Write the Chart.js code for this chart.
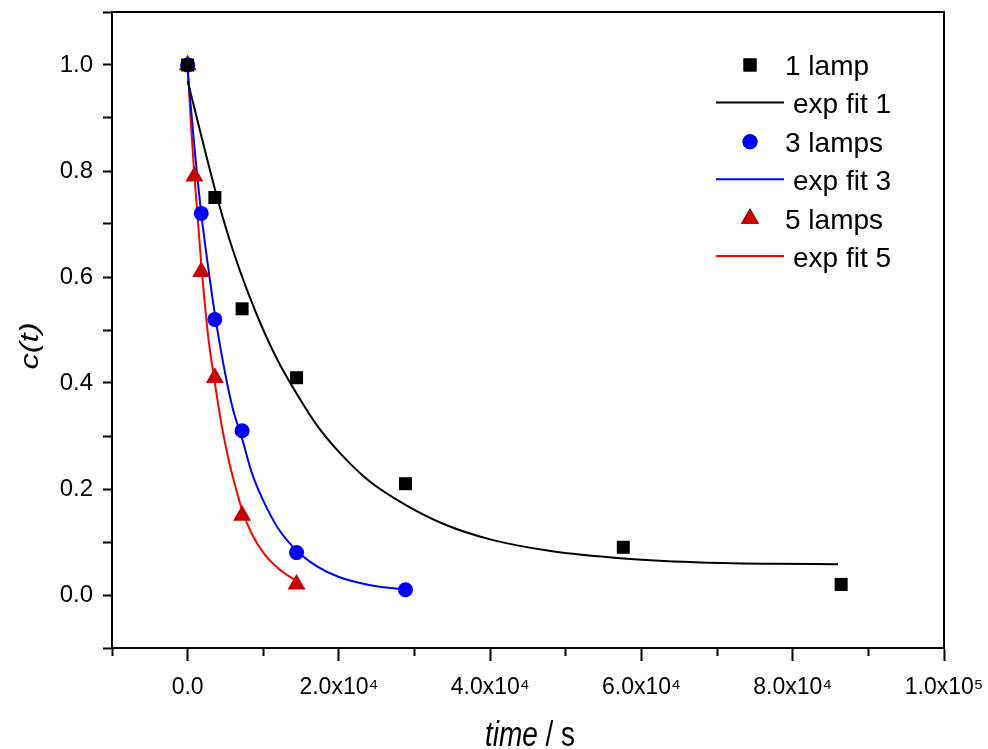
<!DOCTYPE html>
<html>
<head>
<meta charset="utf-8">
<script src="https://cdn.jsdelivr.net/npm/chart.js@4.4.1/dist/chart.umd.min.js"></script>
<style>
  html, body { margin: 0; padding: 0; background: #fff; }
  #wrap { width: 988px; height: 749px; }
</style>
</head>
<body>
<div id="wrap"><canvas id="decayChart" width="988" height="749"></canvas></div>
<script>
// Measured points (time in s, normalised concentration)
const timeOneLamp = [0, 3600, 7200, 14400, 28800, 57600, 86400];
const cOneLamp = [1.0, 0.75, 0.54, 0.41, 0.21, 0.09, 0.02];
const timeThreeLamps = [0, 1800, 3600, 7200, 14400, 28800];
const cThreeLamps = [1.0, 0.72, 0.52, 0.31, 0.08, 0.01];
const timeFiveLamps = [0, 900, 1800, 3600, 7200, 14400];
const cFiveLamps = [1.0, 0.79, 0.61, 0.41, 0.15, 0.02];

// Fit curves
const fitOneTime = [0, 2000, 4000, 6000, 8000, 10000, 12000, 14400, 17000, 20000, 24000, 28800, 34000, 40000, 48000, 57600, 67000, 77000, 86000];
const fitOneC = [0.97, 0.855, 0.745, 0.65, 0.57, 0.50, 0.44, 0.38, 0.322, 0.27, 0.215, 0.17, 0.133, 0.105, 0.083, 0.069, 0.062, 0.059, 0.058];
const fitThreeTime = [0, 900, 1800, 2700, 3600, 5000, 6000, 7200, 8500, 10000, 12000, 14400, 17000, 20000, 24000, 28800];
const fitThreeC = [0.99, 0.845, 0.72, 0.62, 0.53, 0.415, 0.35, 0.295, 0.23, 0.178, 0.125, 0.084, 0.055, 0.034, 0.019, 0.01];
const fitFiveTime = [0, 450, 900, 1800, 2700, 3600, 4500, 5500, 6500, 7200, 8500, 10000, 12000, 14400];
const fitFiveC = [1.0, 0.885, 0.79, 0.625, 0.49, 0.40, 0.32, 0.25, 0.195, 0.16, 0.115, 0.08, 0.05, 0.026];

// Axis ticks
const xTickValues = [0, 20000, 40000, 60000, 80000, 100000];
const xTickLabels = ['0.0', '2.0x10\u2074', '4.0x10\u2074', '6.0x10\u2074', '8.0x10\u2074', '1.0x10\u2075'];
const yTickValues = [0, 0.2, 0.4, 0.6, 0.8, 1.0];
const yTickLabels = ['0.0', '0.2', '0.4', '0.6', '0.8', '1.0'];

const FONT = '"Liberation Sans", Arial, sans-serif';

function toPoints(xs, ys) {
  return xs.map((x, i) => ({ x: x, y: ys[i] }));
}

function majorIndex(values, v) {
  return values.findIndex(t => Math.abs(t - v) < 1e-6);
}

// Legend drawn inside the plot area, top right
const insideLegend = {
  id: 'insideLegend',
  afterDraw(chart) {
    const { ctx, chartArea } = chart;
    ctx.save();
    ctx.font = '28px ' + FONT;
    ctx.fillStyle = '#000';
    ctx.textBaseline = 'alphabetic';
    chart.data.datasets.forEach((ds, i) => {
      const y = chartArea.top + 53 + i * 38.4;
      let tx;
      if (ds.pointRadius === 0) {
        ctx.strokeStyle = ds.borderColor;
        ctx.lineWidth = 2;
        ctx.beginPath();
        ctx.moveTo(chartArea.right - 228, y - 1);
        ctx.lineTo(chartArea.right - 160, y - 1);
        ctx.stroke();
        tx = chartArea.right - 151;
      } else {
        Chart.helpers.drawPoint(ctx, {
          pointStyle: ds.pointStyle,
          radius: ds.pointRadius,
          rotation: 0,
          borderWidth: 0
        }, chartArea.right - 194, y);
        ctx.fillStyle = ds.backgroundColor;
        ctx.fill();
        tx = chartArea.right - 159;
      }
      ctx.fillStyle = '#000';
      ctx.fillText(ds.label, tx, y + 10);
    });
    ctx.restore();
  }
};

// Frame on top/right and the axis titles (mixed italic)
const frameAndTitles = {
  id: 'frameAndTitles',
  afterDraw(chart) {
    const { ctx, chartArea } = chart;
    ctx.save();
    ctx.strokeStyle = '#000';
    ctx.lineWidth = 2;
    ctx.beginPath();
    ctx.moveTo(chartArea.left, chartArea.top);
    ctx.lineTo(chartArea.right, chartArea.top);
    ctx.lineTo(chartArea.right, chartArea.bottom);
    ctx.stroke();

    // x title: "time / s"
    ctx.fillStyle = '#000';
    ctx.textBaseline = 'alphabetic';
    const italic = 'italic 28px ' + FONT;
    const upright = '28px ' + FONT;
    ctx.font = italic;
    const w1 = ctx.measureText('time').width;
    ctx.font = upright;
    const w2 = ctx.measureText(' / s').width;
    const cx = (chartArea.left + chartArea.right) / 2 + 2;
    ctx.save();
    ctx.translate(cx - (w1 + w2) / 2, 746);
    ctx.scale(1, 1.25);
    ctx.font = italic;
    ctx.fillText('time', 0, 0);
    ctx.font = upright;
    ctx.fillText(' / s', w1, 0);
    ctx.restore();

    // y title: "c(t)"
    ctx.save();
    ctx.translate(31, 346);
    ctx.rotate(-Math.PI / 2);
    ctx.scale(1.3, 1);
    ctx.font = 'italic 25px ' + FONT;
    ctx.textAlign = 'center';
    ctx.textBaseline = 'middle';
    ctx.fillText('c(t)', 0, 0);
    ctx.restore();
    ctx.restore();
  }
};

const ctx = document.getElementById('decayChart').getContext('2d');

new Chart(ctx, {
  type: 'scatter',
  data: {
    datasets: [
      {
        label: '1 lamp',
        data: toPoints(timeOneLamp, cOneLamp),
        pointStyle: 'rect',
        pointRadius: 9.2,
        backgroundColor: '#000000',
        borderWidth: 0,
        order: 1
      },
      {
        type: 'line',
        label: 'exp fit 1',
        data: toPoints(fitOneTime, fitOneC),
        borderColor: '#000000',
        borderWidth: 2,
        pointRadius: 0,
        fill: false,
        cubicInterpolationMode: 'monotone',
        order: 2
      },
      {
        label: '3 lamps',
        data: toPoints(timeThreeLamps, cThreeLamps),
        pointStyle: 'circle',
        pointRadius: 7.5,
        backgroundColor: '#0000ff',
        borderWidth: 0,
        order: 1
      },
      {
        type: 'line',
        label: 'exp fit 3',
        data: toPoints(fitThreeTime, fitThreeC),
        borderColor: '#0000ff',
        borderWidth: 2,
        pointRadius: 0,
        fill: false,
        cubicInterpolationMode: 'monotone',
        order: 2
      },
      {
        label: '5 lamps',
        data: toPoints(timeFiveLamps, cFiveLamps),
        pointStyle: 'triangle',
        pointRadius: 10.4,
        backgroundColor: '#c80000',
        borderWidth: 0,
        order: 1
      },
      {
        type: 'line',
        label: 'exp fit 5',
        data: toPoints(fitFiveTime, fitFiveC),
        borderColor: '#ff0000',
        borderWidth: 2,
        pointRadius: 0,
        fill: false,
        cubicInterpolationMode: 'monotone',
        order: 2
      }
    ]
  },
  options: {
    responsive: false,
    animation: false,
    devicePixelRatio: 1,
    layout: {
      padding: { top: 12, right: 44, bottom: 0, left: 0 }
    },
    plugins: {
      legend: { display: false },
      tooltip: { enabled: false }
    },
    scales: {
      x: {
        type: 'linear',
        min: -10000,
        max: 100000,
        afterFit: (scale) => {
          scale.height = 101;
          scale.paddingLeft = 0;
          scale.paddingRight = 0;
        },
        ticks: {
          stepSize: 10000,
          autoSkip: false,
          maxRotation: 0,
          padding: 13,
          color: '#000',
          font: { family: FONT, size: 23 },
          callback: (value) => {
            const i = majorIndex(xTickValues, value);
            return i >= 0 ? xTickLabels[i] : '';
          }
        },
        grid: {
          drawOnChartArea: false,
          drawTicks: true,
          tickLength: 13,
          tickColor: '#000',
          tickWidth: 2,
          tickBorderDash: (c) => majorIndex(xTickValues, c.tick.value) >= 0 ? [] : [7, 60]
        },
        border: { display: true, color: '#000', width: 2 }
      },
      y: {
        type: 'linear',
        min: -0.1,
        max: 1.1,
        afterFit: (scale) => {
          scale.width = 112;
          scale.paddingTop = 0;
          scale.paddingBottom = 0;
        },
        ticks: {
          stepSize: 0.1,
          autoSkip: false,
          padding: 10,
          color: '#000',
          font: { family: FONT, size: 24 },
          callback: (value) => {
            const i = majorIndex(yTickValues, value);
            return i >= 0 ? yTickLabels[i] : '';
          }
        },
        grid: {
          drawOnChartArea: false,
          drawTicks: true,
          tickLength: 9,
          tickColor: '#000',
          tickWidth: 2
        },
        border: { display: true, color: '#000', width: 2 }
      }
    }
  },
  plugins: [insideLegend, frameAndTitles]
});
</script>
</body>
</html>
